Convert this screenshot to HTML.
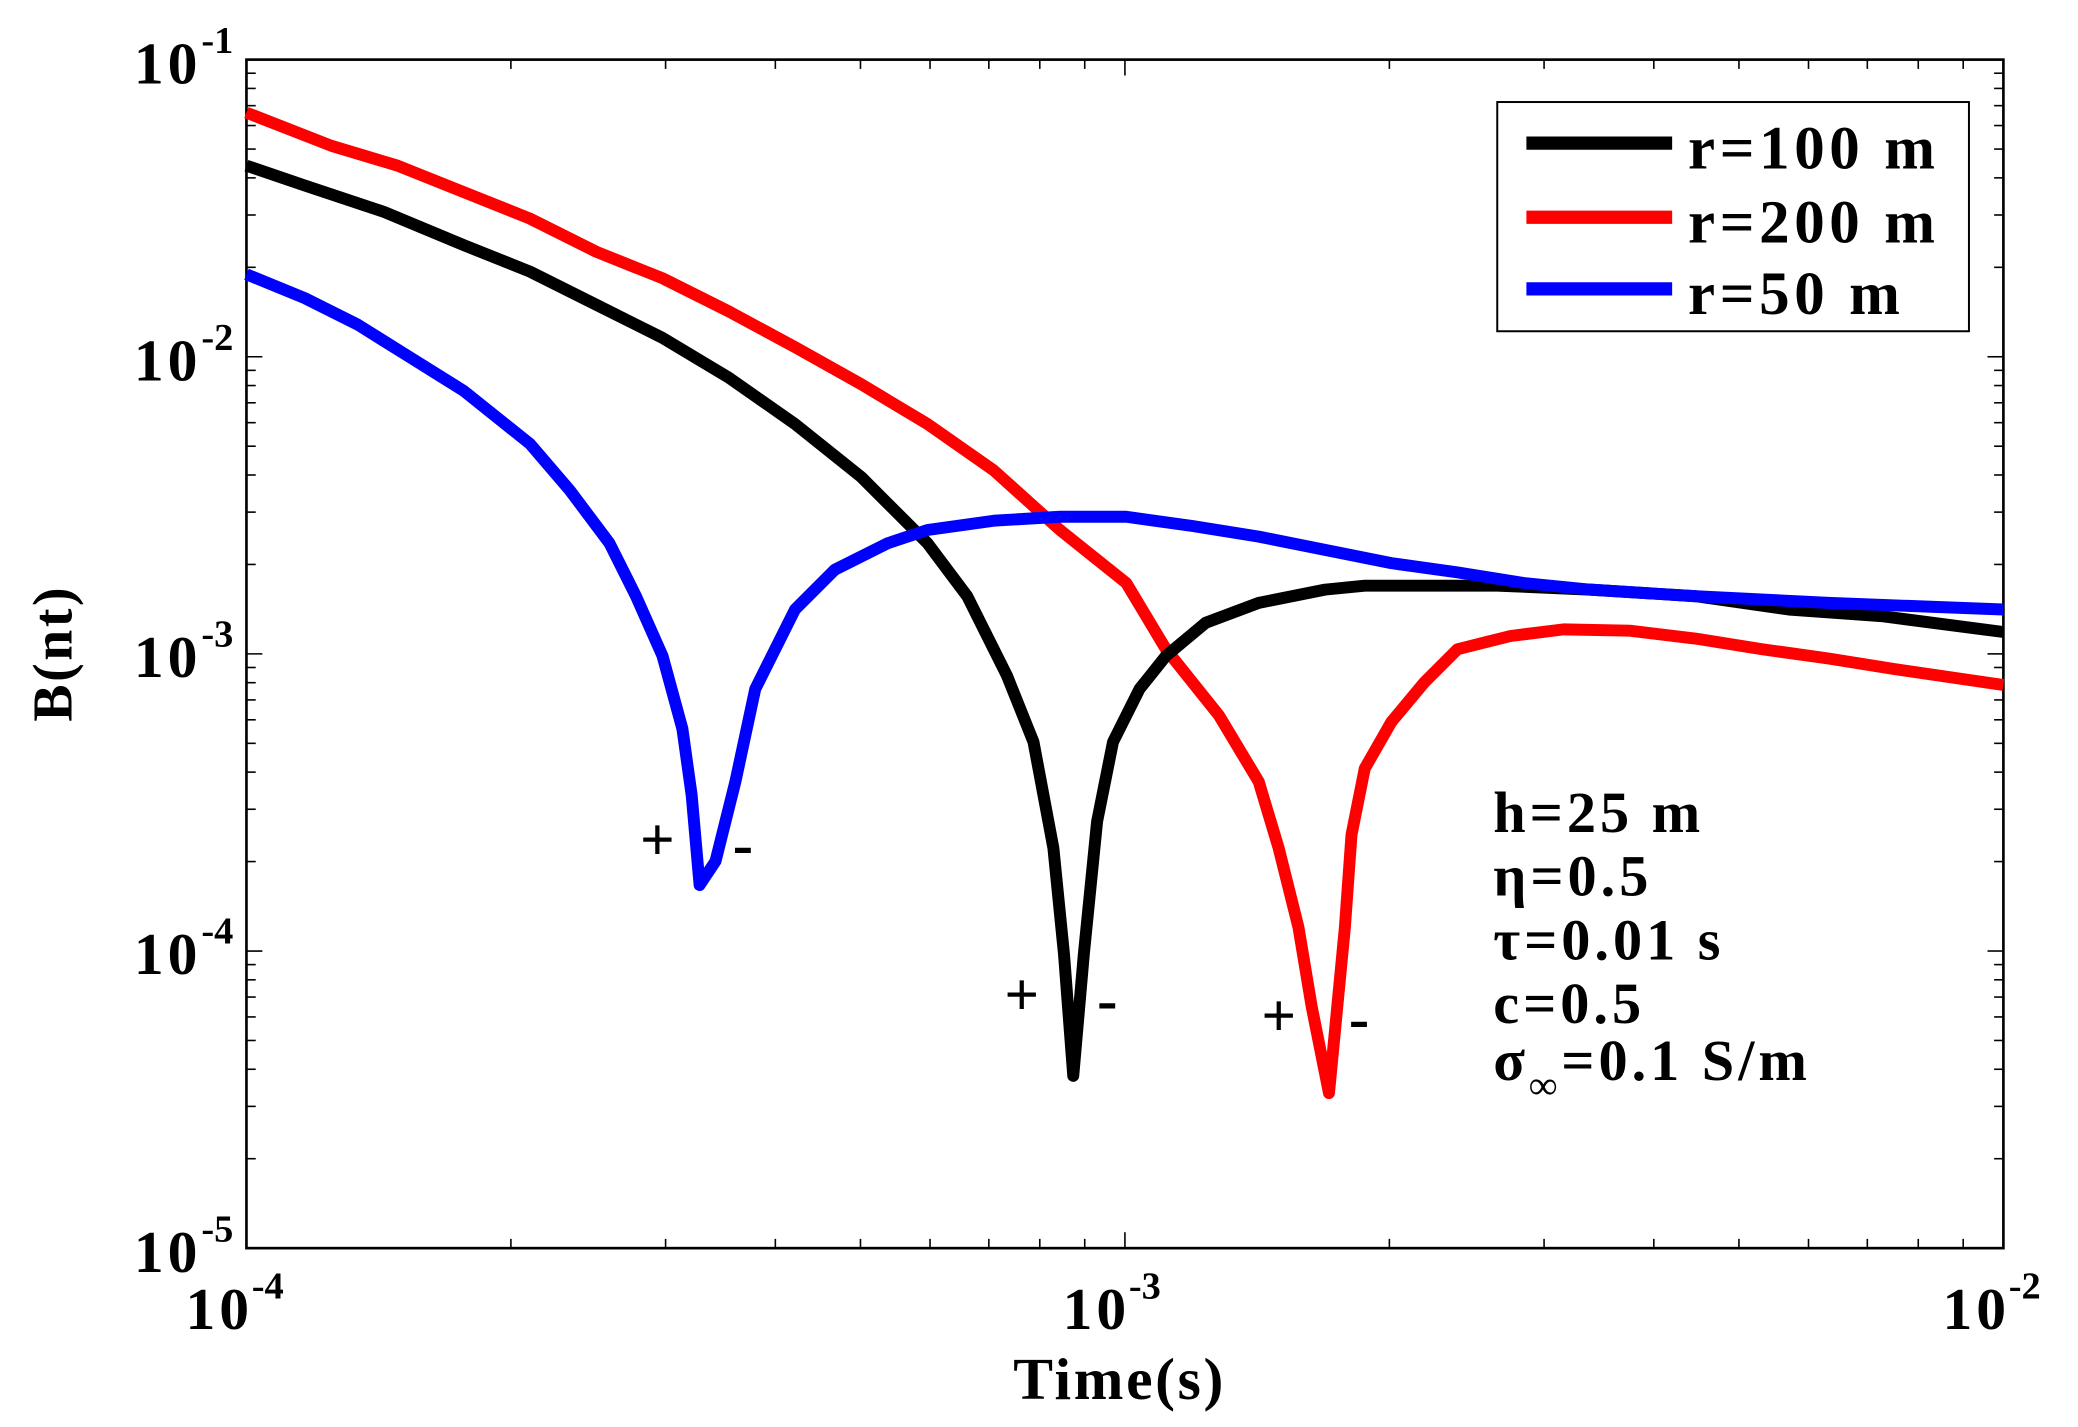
<!DOCTYPE html>
<html><head><meta charset="utf-8"><style>html,body{margin:0;padding:0;background:#fff}svg{display:block}</style></head>
<body>
<svg xmlns="http://www.w3.org/2000/svg" width="2078" height="1427" viewBox="0 0 2078 1427">
<g transform="scale(1.325)" font-family="Liberation Serif, serif" font-weight="bold" fill="#000">
<rect x="0" y="0" width="1569" height="1077" fill="#fff"/>
<g id="ticks" stroke="#000" stroke-width="1.2"></g>
<rect x="186" y="45" width="1326" height="897" fill="none" stroke="#000" stroke-width="2"/>
<g fill="none" stroke-width="9" stroke-linejoin="round" stroke-linecap="butt">
<polyline stroke="#f00" points="186,85 250,110 300,125 350,145 400,165 450,190 500,210 550,235 600,262 650,290 700,320 750,355 800,400 850,440 880,490 920,540 950,590 965,640 980,700 990,760 1003,825 1015,700 1020,630 1030,580 1050,545 1075,515 1100,490 1140,480 1180,475 1230,476 1280,482 1330,490 1380,497 1430,505 1512,517"/>
<polyline stroke="#000" points="186,125 230,140 290,160 350,185 400,205 450,230 500,255 550,285 600,320 650,360 700,410 730,450 760,510 780,560 795,640 803,720 810,812 818,720 828,620 840,560 860,520 880,495 910,470 950,455 1000,445 1030,442 1130,442 1200,445 1280,450 1350,460 1420,465 1512,477"/>
<polyline stroke="#00f" points="186,207 230,225 270,245 310,270 350,295 400,335 430,370 460,410 480,450 500,495 515,550 522,600 528,668 540,650 555,590 570,520 600,460 630,430 670,410 700,400 750,393 800,390 850,390 900,397 950,405 1000,415 1050,425 1100,432 1150,440 1200,445 1280,450 1380,455 1512,460"/>
</g>
<g font-size="45" text-anchor="end" letter-spacing="3">
<text x="152" y="63">10</text><text x="152" y="287">10</text><text x="152" y="511">10</text><text x="152" y="735">10</text><text x="152" y="960">10</text>
</g>
<g font-size="29">
<text x="152" y="40">-1</text><text x="152" y="264">-2</text><text x="152" y="488">-3</text><text x="152" y="712">-4</text><text x="152" y="937">-5</text>
</g>
<g font-size="45" letter-spacing="3">
<text x="140" y="1003">10</text><text x="802" y="1003">10</text><text x="1466" y="1003">10</text>
</g>
<g font-size="29">
<text x="190" y="980">-4</text><text x="852" y="980">-3</text><text x="1516" y="980">-2</text>
</g>
<text x="845" y="1056" font-size="45" text-anchor="middle" letter-spacing="2">Time(s)</text>
<text transform="translate(54,493) rotate(-90)" font-size="42" text-anchor="middle" letter-spacing="2">B(nt)</text>
<rect x="1130" y="77" width="356" height="173" fill="#fff" stroke="#000" stroke-width="1.5"/>
<g stroke-width="10"><line x1="1152" y1="108" x2="1262" y2="108" stroke="#000"/><line x1="1152" y1="164" x2="1262" y2="164" stroke="#f00"/><line x1="1152" y1="218" x2="1262" y2="218" stroke="#00f"/></g>
<g font-size="46" letter-spacing="3.5"><text x="1274" y="127">r=100 m</text><text x="1274" y="183">r=200 m</text><text x="1274" y="237">r=50 m</text></g>
<g font-size="44" letter-spacing="3">
<text x="1127" y="628">h=25 m</text>
<text x="1127" y="676">η=0.5</text>
<text x="1127" y="724">τ=0.01 s</text>
<text x="1127" y="772">c=0.5</text>
<text x="1127" y="815">σ<tspan font-size="30" dy="14">∞</tspan><tspan dy="-14">=0.1 S/m</tspan></text>
</g>
<g font-size="46">
<text x="483" y="649">+</text><text x="553" y="653">-</text>
<text x="758" y="766">+</text><text x="828" y="770">-</text>
<text x="952" y="782">+</text><text x="1018" y="784">-</text>
</g>
</g>
</svg>
<script>
(function(){
var g=document.getElementById('ticks'),s='';
var L=186,R=1512,T=45,B=942,dx=(R-L)/2,dy=(B-T)/4;
for(var d=0;d<2;d++)for(var m=1;m<10;m++){var x=L+dx*(d+Math.log10(m));var l=m==1?12:7;
s+='<line x1="'+x+'" y1="'+B+'" x2="'+x+'" y2="'+(B-l)+'"/><line x1="'+x+'" y1="'+T+'" x2="'+x+'" y2="'+(T+l)+'"/>';}
for(var d=0;d<4;d++)for(var m=1;m<10;m++){var y=B-dy*(d+Math.log10(m));var l=m==1?12:7;
s+='<line x1="'+L+'" y1="'+y+'" x2="'+(L+l)+'" y2="'+y+'"/><line x1="'+R+'" y1="'+y+'" x2="'+(R-l)+'" y2="'+y+'"/>';}
g.innerHTML=s;
})();
</script>
</body></html>
